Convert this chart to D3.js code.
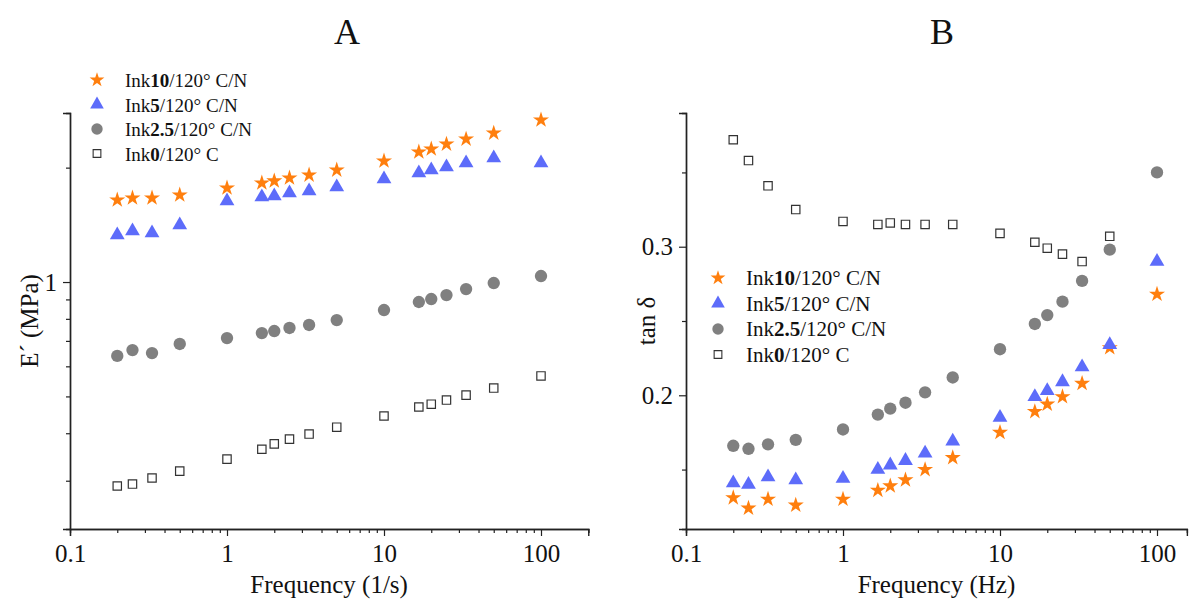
<!DOCTYPE html>
<html>
<head>
<meta charset="utf-8">
<script src="https://cdn.jsdelivr.net/npm/d3@7"></script>
<style>
  body { margin: 0; background: #fff; }
  text { font-family: "Liberation Serif", "Times New Roman", serif; }
</style>
</head>
<body>
<script>
// Frequencies (same sweep for both panels)
const freq = [0.2, 0.25, 0.333, 0.5, 1, 1.667, 2, 2.5, 3.333, 5, 10, 16.67, 20, 25, 33.33, 50, 100];

// Panel A: storage modulus E' (MPa)
const modInk10 = [1.644, 1.664, 1.664, 1.694, 1.768, 1.822, 1.845, 1.878, 1.912, 1.971, 2.082, 2.199, 2.239, 2.307, 2.378, 2.466, 2.669];
const modInk5 = [1.329, 1.362, 1.346, 1.413, 1.634, 1.674, 1.684, 1.715, 1.736, 1.778, 1.866, 1.936, 1.971, 2.008, 2.057, 2.120, 2.057];
const modInk25 = [0.639, 0.662, 0.650, 0.687, 0.712, 0.734, 0.743, 0.757, 0.771, 0.794, 0.844, 0.886, 0.902, 0.924, 0.958, 0.994, 1.037];
const modInk0 = [0.2905, 0.294, 0.305, 0.318, 0.342, 0.363, 0.375, 0.386, 0.398, 0.415, 0.444, 0.469, 0.477, 0.489, 0.504, 0.526, 0.566];

// Panel B: tan delta
const tanInk10 = [0.131, 0.124, 0.130, 0.126, 0.130, 0.136, 0.139, 0.143, 0.150, 0.158, 0.175, 0.189, 0.194, 0.199, 0.208, 0.232, 0.268];
const tanInk5 = [0.141, 0.140, 0.145, 0.143, 0.144, 0.150, 0.153, 0.156, 0.161, 0.169, 0.185, 0.199, 0.203, 0.209, 0.219, 0.234, 0.290];
const tanInk25 = [0.166, 0.164, 0.167, 0.170, 0.177, 0.187, 0.191, 0.195, 0.202, 0.212, 0.231, 0.248, 0.254, 0.263, 0.277, 0.298, 0.350];
const tanInk0 = [0.372, 0.358, 0.341, 0.325, 0.317, 0.315, 0.316, 0.315, 0.315, 0.315, 0.309, 0.303, 0.299, 0.295, 0.290, 0.307];

// Tick values
const xMajor = [0.1, 1, 10, 100];
const xMinorA = [0.2,0.3,0.4,0.5,0.6,0.7,0.8,0.9, 2,3,4,5,6,7,8,9, 20,30,40,50,60,70,80,90, 200];
const xMinorB = [0.2,0.3,0.4,0.5,0.6,0.7,0.8,0.9, 2,3,4,5,6,7,8,9, 20,30,40,50,60,70,80,90];
const yMajorA = [1];
const yMinorA = [0.3, 0.4, 0.5, 0.6, 0.7, 0.8, 0.9, 2];
const yMajorB = [0.2, 0.3];
const yMinorB = [0.15, 0.25, 0.35];

const series = ["Ink10", "Ink5", "Ink2.5", "Ink0"];
const legendBold = ["10", "5", "2.5", "0"];
const legendTail = ["/120° C/N", "/120° C/N", "/120° C/N", "/120° C"];

const W = 1201, H = 610;
const svg = d3.select("body").append("svg").attr("width", W).attr("height", H);

const styles = [
  { type: d3.symbolStar, size: 80, fill: "#ff7f0e", stroke: "none" },
  { type: d3.symbolTriangle, size: 95, fill: "#5d6cfa", stroke: "none" },
  { type: d3.symbolCircle, size: 120, fill: "#808080", stroke: "none" },
  { type: d3.symbolSquare, size: 70, fill: "#fff", stroke: "#333" }
];

function drawPanel(opt) {
  const g = svg.append("g");
  const x = d3.scaleLog().domain(opt.xDomain).range(opt.xRange);
  const y = (opt.yLog ? d3.scaleLog() : d3.scaleLinear()).domain(opt.yDomain).range([529, 113]);

  // minor ticks
  g.append("g").attr("transform", "translate(0,529)")
    .call(d3.axisBottom(x).tickValues(opt.xMinor).tickSize(4).tickFormat(""));
  g.append("g").attr("transform", "translate(" + opt.xRange[0] + ",0)")
    .call(d3.axisLeft(y).tickValues(opt.yMinor).tickSize(4).tickFormat(""));
  // major ticks
  g.append("g").attr("transform", "translate(0,529)")
    .call(d3.axisBottom(x).tickValues(xMajor).tickSize(7).tickPadding(8).tickFormat(d3.format("~g")));
  g.append("g").attr("transform", "translate(" + opt.xRange[0] + ",0)")
    .call(d3.axisLeft(y).tickValues(opt.yMajor).tickSize(7).tickPadding(6).tickFormat(d3.format("~g")));

  g.selectAll(".domain").attr("stroke", "#222").attr("stroke-width", 1.4);
  g.selectAll(".tick line").attr("stroke", "#222").attr("stroke-width", 1.2);
  g.selectAll(".tick text").attr("font-size", 25).attr("fill", "#111")
    .attr("font-family", "Liberation Serif");

  // data
  opt.data.forEach((vals, i) => {
    const s = styles[i];
    g.append("g").selectAll("path").data(vals).join("path")
      .attr("transform", (d, j) => "translate(" + x(freq[j]) + "," + y(d) + ")")
      .attr("d", d3.symbol().type(s.type).size(s.size))
      .attr("fill", s.fill).attr("stroke", s.stroke).attr("stroke-width", 1.2);
  });

  // title
  const cx = (opt.xRange[0] + opt.xRange[1]) / 2;
  g.append("text").attr("x", opt.titleX).attr("y", 44).attr("text-anchor", "middle")
    .attr("font-size", 36).attr("fill", "#111").text(opt.title);
  g.append("text").attr("x", cx).attr("y", 593).attr("text-anchor", "middle")
    .attr("font-size", 25).attr("fill", "#111").text(opt.xLabel);
  g.append("text").attr("transform", "translate(" + opt.yLabelX + ",321) rotate(-90)")
    .attr("text-anchor", "middle").attr("font-size", 25).attr("fill", "#111").text(opt.yLabel);

  // legend
  const lg = g.append("g");
  series.forEach((name, i) => {
    const s = styles[i];
    const ly = opt.legendY + i * opt.legendStep;
    lg.append("path").attr("transform", "translate(" + opt.legendX + "," + ly + ")")
      .attr("d", d3.symbol().type(s.type).size(s.size * 0.85))
      .attr("fill", s.fill).attr("stroke", s.stroke).attr("stroke-width", 1.1);
    const t = lg.append("text").attr("x", opt.legendX + 28).attr("y", ly + 7)
      .attr("font-size", opt.legendFont).attr("fill", "#111");
    t.append("tspan").text("Ink");
    t.append("tspan").attr("font-weight", "bold").text(legendBold[i]);
    t.append("tspan").text(legendTail[i]);
  });
}

drawPanel({
  title: "A", titleX: 347,
  xDomain: [0.1, 200], xRange: [70, 70 + 157 * Math.log10(2000)],
  yLog: true, yDomain: [0.2239, 2.785],
  xMinor: xMinorA, yMajor: yMajorA, yMinor: yMinorA,
  data: [modInk10, modInk5, modInk25, modInk0],
  xLabel: "Frequency (1/s)", yLabel: "E\u00B4 (MPa)", yLabelX: 38,
  legendX: 97, legendY: 80, legendStep: 24.5, legendFont: 19
});

drawPanel({
  title: "B", titleX: 942,
  xDomain: [0.1, 155], xRange: [686, 686 + 157 * Math.log10(1550)],
  yLog: false, yDomain: [0.11, 0.39],
  xMinor: xMinorB, yMajor: yMajorB, yMinor: yMinorB,
  data: [tanInk10, tanInk5, tanInk25, tanInk0],
  xLabel: "Frequency (Hz)", yLabel: "tan \u03B4", yLabelX: 655,
  legendX: 718, legendY: 278, legendStep: 25.5, legendFont: 21
});
</script>
</body>
</html>
